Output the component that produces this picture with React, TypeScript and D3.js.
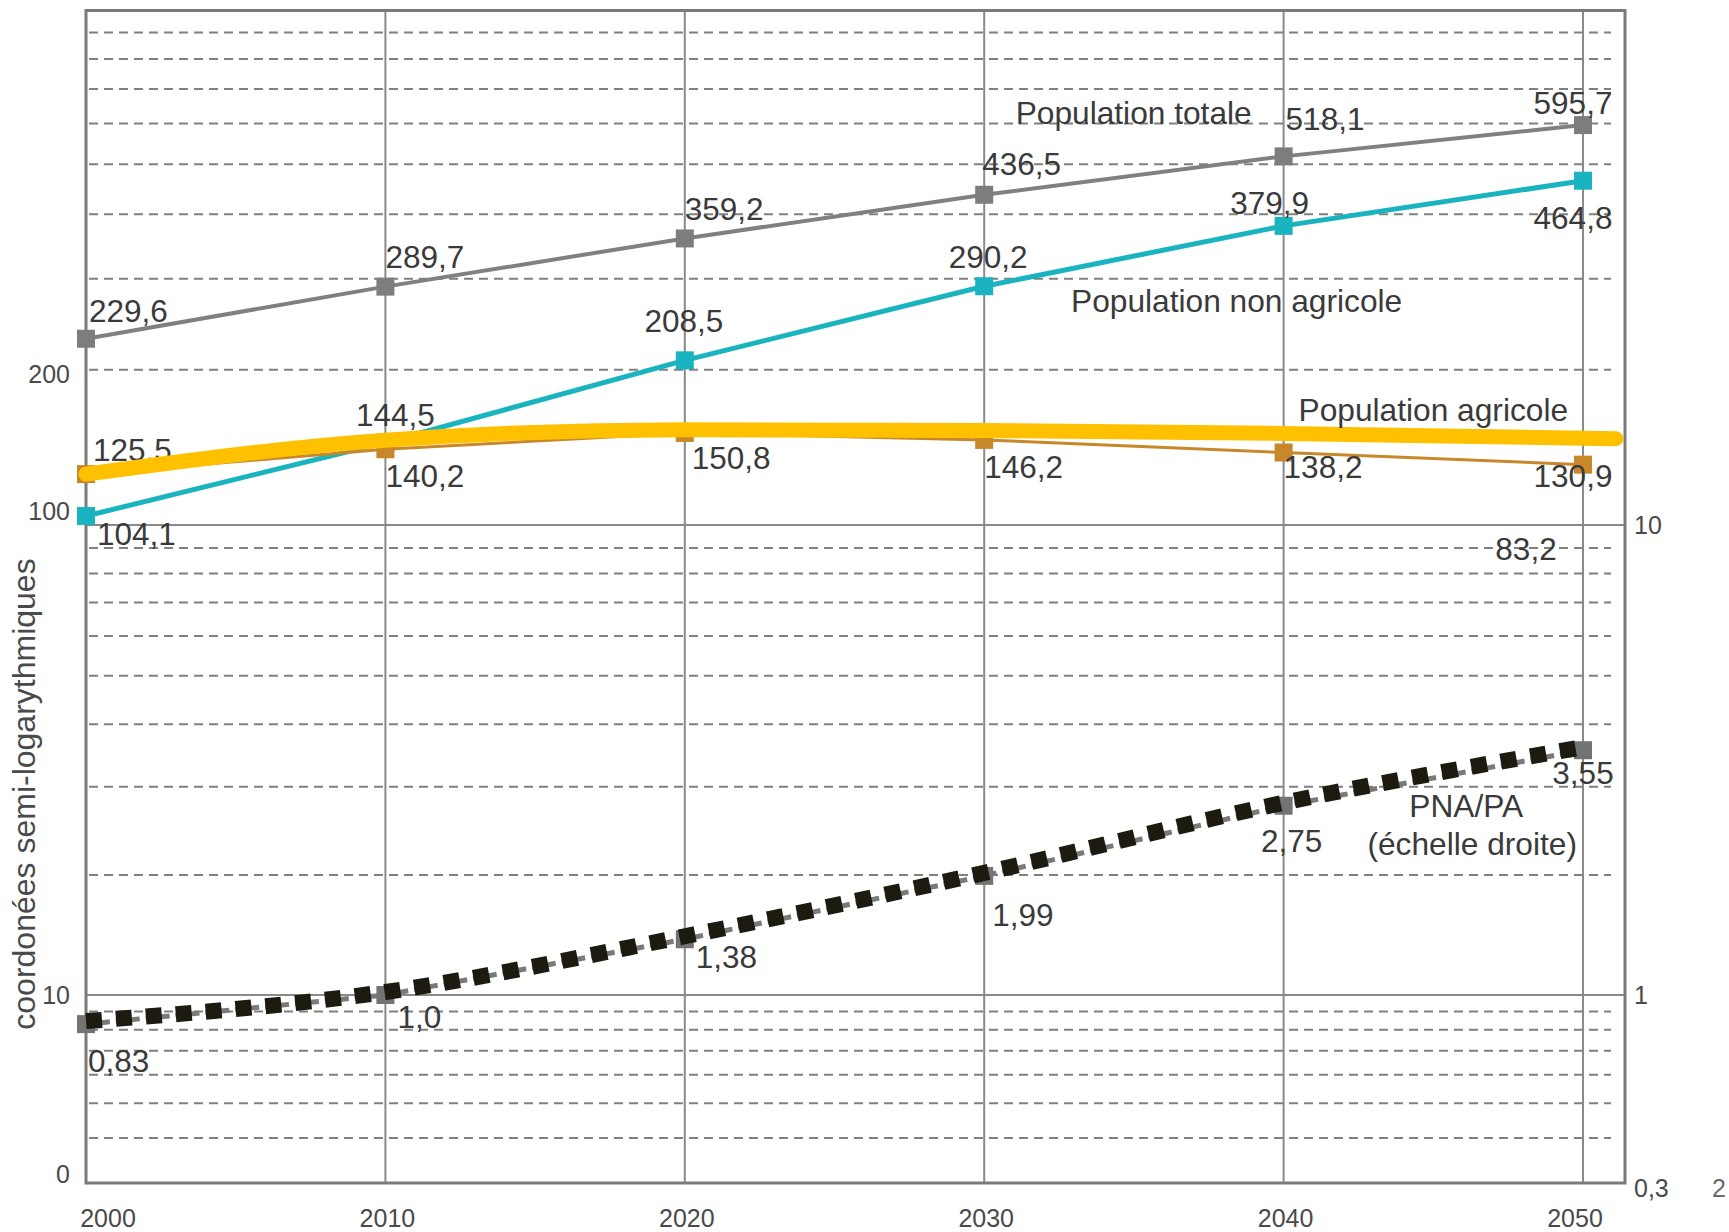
import React from "react";
import * as d3 from "d3";

// ---------- data ----------
const years = [2000, 2010, 2020, 2030, 2040, 2050];
const popTotale = [229.6, 289.7, 359.2, 436.5, 518.1, 595.7];
const popNonAgricole = [104.1, 144.5, 208.5, 290.2, 379.9, 464.8];
const popAgricole = [125.5, 140.2, 150.8, 146.2, 138.2, 130.9];
const ratioPnaPa = [0.83, 1.0, 1.38, 1.99, 2.75, 3.55];
const ratioLabels = ["0,83", "1,0", "1,38", "1,99", "2,75", "3,55"];
// hand-drawn yellow highlight over "Population agricole" (year, value)
const highlightYears = [2000, 2010, 2020, 2030, 2040, 2051.1];
const highlightValues = [125.5, 146, 153, 152.5, 150.5, 147];

const dashedGridLeft = [200, 300, 400, 500, 600, 700, 800, 900, 20, 30, 40, 50, 60, 70, 80, 90, 4, 5, 6, 7, 8, 9];
const solidGridLeft = [10, 100];
const verticalGridYears = [2010, 2020, 2030, 2040, 2050];
const xTickLabels = ["2000", "2010", "2020", "2030", "2040", "2050"];
const leftTickLabels = ["200", "100", "10", "0"];
const leftTickValues = [200, 100, 10, 3];
const rightTickLabels = ["10", "1", "0,3"];
const rightTickValues = [10, 1, 0.3];

const fmt1 = (v: number) => v.toFixed(1).replace(".", ",");

// ---------- layout ----------
const W = 1729;
const H = 1232;
const frame = { left: 86, right: 1625, top: 10.5, bottom: 1183 };
const FONT = "'Liberation Sans', Arial, Helvetica, sans-serif";
const TXT = "#3a3a3a";
const LABEL_FS = 31.5;
const NAME_FS = 31.7;

const x = d3.scaleLinear().domain([2000, 2050]).range([86, 1583]);
const yL = d3.scaleLog().domain([3, 10, 20, 100, 1000]).range([1183, 995, 875, 525, 9]);
const yR = d3.scaleLog().domain([0.3, 1, 2, 10, 100]).range([1183, 995, 875, 525, 9]);

// label offsets [dx, dy, anchor]
const totaleLayout: [number, number, string][] = [
  [3, -28, "start"], [0, -30, "start"], [0, -29, "start"], [-2, -31, "start"], [2, -37, "start"], [-10, -22, "middle"],
];
const nonAgriLayout: [number, number, string][] = [
  [11, 18, "start"], [10, -28, "middle"], [-1, -39, "middle"], [4, -29, "middle"], [-14, -23, "middle"], [-10, 37, "middle"],
];
const agriLayout: [number, number, string][] = [
  [7, -24, "start"], [0, 27, "start"], [7, 25, "start"], [0, 27, "start"], [0, 15, "start"], [-10, 11, "middle"],
];
const ratioLayout: [number, number, string][] = [
  [2, 37, "start"], [12, 22, "start"], [11, 18, "start"], [8, 39, "start"], [8, 35, "middle"], [0, 23, "middle"],
];

type P = [number, number];
const zip = (a: number[], b: number[]): P[] => a.map((v, i) => [v, b[i]]);

export default function App() {
  const lineL = d3.line<P>().x((d) => x(d[0])).y((d) => yL(d[1]));
  const lineR = d3.line<P>().x((d) => x(d[0])).y((d) => yR(d[1]));
  const lineRSmooth = d3
    .line<P>()
    .x((d) => x(d[0]))
    .y((d) => yR(d[1]) - 3)
    .curve(d3.curveMonotoneX);
  const highlight = d3
    .line<P>()
    .x((d) => x(d[0]))
    .y((d) => yL(d[1]))
    .curve(d3.curveMonotoneX);

  const totale = zip(years, popTotale);
  const nonAgri = zip(years, popNonAgricole);
  const agri = zip(years, popAgricole);
  const ratio = zip(years, ratioPnaPa);

  const M = 18; // marker size

  const markers = (pts: P[], scale: (v: number) => number, fill: string) =>
    pts.map((d, i) => (
      <rect key={i} x={x(d[0]) - M / 2} y={scale(d[1]) - M / 2} width={M} height={M} fill={fill} />
    ));

  const labels = (
    pts: P[],
    scale: (v: number) => number,
    texts: string[],
    layout: [number, number, string][]
  ) =>
    pts.map((d, i) => (
      <text
        key={i}
        x={x(d[0]) + layout[i][0]}
        y={scale(d[1]) + layout[i][1]}
        textAnchor={layout[i][2] as any}
        dominantBaseline="central"
        fontSize={LABEL_FS}
        fill={TXT}
      >
        {texts[i]}
      </text>
    ));

  return (
    <div style={{ position: "absolute", left: 0, top: 0 }}>
      <svg width={W} height={H} style={{ display: "block", background: "#fff" }} fontFamily={FONT}>
        <rect x={0} y={0} width={W} height={H} fill="#fff" />
        {/* dashed gridlines */}
        {dashedGridLeft.map((v) => (
          <line
            key={"d" + v}
            x1={frame.left + 3}
            x2={frame.right - 14}
            y1={yL(v)}
            y2={yL(v)}
            stroke="#808080"
            strokeWidth={2}
            strokeDasharray="9 6"
          />
        ))}
        {solidGridLeft.map((v) => (
          <line key={"s" + v} x1={frame.left} x2={frame.right} y1={yL(v)} y2={yL(v)} stroke="#8a8a8a" strokeWidth={2} />
        ))}
        {verticalGridYears.map((yr) => (
          <line key={"v" + yr} x1={x(yr)} x2={x(yr)} y1={frame.top} y2={frame.bottom} stroke="#8a8a8a" strokeWidth={2} />
        ))}
        <rect
          x={frame.left}
          y={frame.top}
          width={frame.right - frame.left}
          height={frame.bottom - frame.top}
          fill="none"
          stroke="#7a7a7a"
          strokeWidth={3}
        />

        {/* Population totale */}
        <path d={lineL(totale) || ""} fill="none" stroke="#808080" strokeWidth={4} />
        {markers(totale, yL, "#7d7d7d")}

        {/* Population non agricole */}
        <path d={lineL(nonAgri) || ""} fill="none" stroke="#1ab4c0" strokeWidth={5} />
        {markers(nonAgri, yL, "#1ab4c0")}

        {/* Population agricole */}
        <path d={lineL(agri) || ""} fill="none" stroke="#c8882a" strokeWidth={3} />
        {markers(agri, yL, "#c8882a")}

        {/* PNA/PA */}
        <path d={lineR(ratio) || ""} fill="none" stroke="#7a7a7a" strokeWidth={5} strokeDasharray="9 6" />
        {markers(ratio, yR, "#737373")}
        <path
          d={lineRSmooth(ratio) || ""}
          fill="none"
          stroke="#1d1a10"
          strokeWidth={16}
          strokeDasharray="16 14"
        />

        {/* value labels */}
        {labels(totale, yL, popTotale.map(fmt1), totaleLayout)}
        {labels(nonAgri, yL, popNonAgricole.map(fmt1), nonAgriLayout)}
        {labels(agri, yL, popAgricole.map(fmt1), agriLayout)}
        {labels(ratio, yR, ratioLabels, ratioLayout)}
        <text x={x(2050) - 57} y={yL(100) + 24} textAnchor="middle" dominantBaseline="central" fontSize={LABEL_FS} fill={TXT}>
          83,2
        </text>

        {/* yellow highlight */}
        <path
          d={highlight(zip(highlightYears, highlightValues)) || ""}
          fill="none"
          stroke="#ffc000"
          strokeWidth={15}
          strokeLinecap="round"
        />

        {/* series names */}
        <text x={x(2031.05)} y={113} dominantBaseline="central" fontSize={NAME_FS} fill={TXT}>
          Population totale
        </text>
        <text x={x(2032.9)} y={301} dominantBaseline="central" fontSize={NAME_FS} fill={TXT}>
          Population non agricole
        </text>
        <text x={x(2040.5)} y={410} dominantBaseline="central" fontSize={NAME_FS} fill={TXT}>
          Population agricole
        </text>
        <text x={x(2046.1)} y={806} textAnchor="middle" dominantBaseline="central" fontSize={NAME_FS} fill={TXT}>
          PNA/PA
        </text>
        <text x={x(2046.3)} y={844} textAnchor="middle" dominantBaseline="central" fontSize={NAME_FS} fill={TXT}>
          (échelle droite)
        </text>

        {/* x tick labels */}
        {xTickLabels.map((t, i) => {
          const yr = years[i];
          const dx = i === 0 ? 22 : i === 5 ? -8 : 2;
          return (
            <text key={t} x={x(yr) + dx} y={1218} textAnchor="middle" dominantBaseline="central" fontSize={25} fill="#4a4a4a">
              {t}
            </text>
          );
        })}

        {/* left tick labels */}
        {leftTickLabels.map((t, i) => {
          const dy = [4, -14, 0, -9][i];
          return (
            <text
              key={t}
              x={70}
              y={yL(leftTickValues[i]) + dy}
              textAnchor="end"
              dominantBaseline="central"
              fontSize={25}
              fill="#4a4a4a"
            >
              {t}
            </text>
          );
        })}

        {/* right tick labels */}
        {rightTickLabels.map((t, i) => {
          const dy = [0, 0, 5][i];
          return (
            <text
              key={t}
              x={1634}
              y={yR(rightTickValues[i]) + dy}
              textAnchor="start"
              dominantBaseline="central"
              fontSize={25}
              fill="#4a4a4a"
            >
              {t}
            </text>
          );
        })}
        <text x={1712} y={1188} textAnchor="start" dominantBaseline="central" fontSize={25} fill="#6a6a6a">
          2
        </text>

        {/* y axis title */}
        <text
          transform={`translate(35, 794) rotate(-90)`}
          textAnchor="middle"
          fontSize={32}
          fill="#4a4a4a"
        >
          coordonées semi-logarythmiques
        </text>
      </svg>
    </div>
  );
}
